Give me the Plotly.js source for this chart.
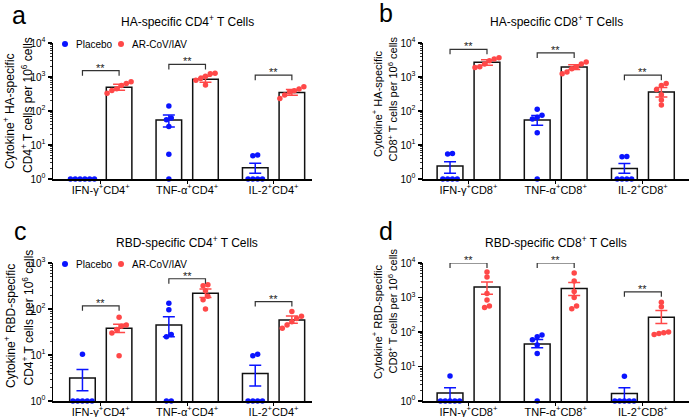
<!DOCTYPE html>
<html><head><meta charset="utf-8">
<script src="https://cdn.plot.ly/plotly-3.0.1.min.js"></script>
<style>html,body{margin:0;padding:0;background:#fff}#chart{width:689px;height:417px}</style>
</head><body><div id="chart"></div>
<script>
// ---------- labels ----------
const groupsCD4 = ['IFN-γ<sup>+</sup>CD4<sup>+</sup>', 'TNF-α<sup>+</sup>CD4<sup>+</sup>', 'IL-2<sup>+</sup>CD4<sup>+</sup>'];
const groupsCD8 = ['IFN-γ<sup>+</sup>CD8<sup>+</sup>', 'TNF-α<sup>+</sup>CD8<sup>+</sup>', 'IL-2<sup>+</sup>CD8<sup>+</sup>'];
const panelTitles = ['HA-specific CD4<sup>+</sup> T Cells', 'HA-specific CD8<sup>+</sup> T Cells',
                     'RBD-specific CD4<sup>+</sup> T Cells', 'RBD-specific CD8<sup>+</sup> T Cells'];
const panelLetters = ['a', 'b', 'c', 'd'];
const yTitleLine1 = ['Cytokine<sup>+</sup> HA-specific', 'Cytokine<sup>+</sup> HA-specific',
                     'Cytokine<sup>+</sup> RBD-specific', 'Cytokine<sup>+</sup> RBD-specific'];
const yTitleLine2 = ['CD4<sup>+</sup> T cells per 10<sup>6</sup> cells', 'CD8<sup>+</sup> T cells per 10<sup>6</sup> cells',
                     'CD4<sup>+</sup> T cells per 10<sup>6</sup> cells', 'CD8<sup>+</sup> T cells per 10<sup>6</sup> cells'];
const seriesNames = ['Placebo', 'AR-CoV/IAV'];
const sigLabel = '**';
const yTickVals4 = [1, 10, 100, 1000, 10000];
const yTickText4 = ['10<sup>0</sup>', '10<sup>1</sup>', '10<sup>2</sup>', '10<sup>3</sup>', '10<sup>4</sup>'];
const yTickVals3 = [1, 10, 100, 1000];
const yTickText3 = ['10<sup>0</sup>', '10<sup>1</sup>', '10<sup>2</sup>', '10<sup>3</sup>'];

// ---------- panel a: HA-specific CD4+ ----------
const aPlaceboPoints = [[1, 1, 1, 1, 1, 1], [140, 62, 55, 35, 5.3, 1], [5.1, 4.8, 1, 1, 1, 1]];
const aVaccinePoints = [[720, 640, 560, 450, 400, 330], [1290, 1250, 1050, 900, 800, 580], [520, 440, 395, 360, 295, 235]];
const aPlaceboMean = [1, 54, 2.15];
const aPlaceboHi = [null, 76, 2.9];
const aPlaceboLo = [null, 34, 1.47];
const aVaccineMean = [497, 855, 350];
const aVaccineHi = [612, 1050, 430];
const aVaccineLo = [408, 700, 290];
const aBracket = [1535, 2350, 1130];

// ---------- panel b: HA-specific CD8+ ----------
const bPlaceboPoints = [[5.6, 5.4, 1, 1, 1, 1], [113, 75, 65, 58, 23, 1], [4.6, 4.5, 1, 1, 1, 1]];
const bVaccinePoints = [[3700, 3400, 3000, 2400, 2000, 1900], [2760, 2400, 2000, 1750, 1400, 1250], [640, 560, 430, 300, 210, 150]];
const bPlaceboMean = [2.4, 54, 2.05];
const bPlaceboHi = [3.2, 74, 2.88];
const bPlaceboLo = [1.47, 38, 1.47];
const bVaccineMean = [2700, 1975, 364];
const bVaccineHi = [3240, 2310, 490];
const bVaccineLo = [2210, 1650, 260];
const bBracket = [6500, 5100, 1130];

// ---------- panel c: RBD-specific CD4+ ----------
const cPlaceboPoints = [[10.4, 1, 1, 1, 1, 1], [134, 96, 28, 25, 1, 1], [10.4, 9.6, 1, 1, 1, 1]];
const cVaccinePoints = [[66, 45, 42, 36, 30, 9.6], [336, 320, 250, 190, 158, 100], [88, 70, 62, 53, 45, 38]];
const cPlaceboMean = [3.18, 45, 3.96];
const cPlaceboHi = [4.84, 68, 6.0];
const cPlaceboLo = [1.68, 25, 2.13];
const cVaccineMean = [38, 221, 58];
const cVaccineHi = [46.5, 271, 70.8];
const cVaccineLo = [31, 178, 49];
const cBracket = [117, 455, 145];

// ---------- panel d: RBD-specific CD8+ ----------
const dPlaceboPoints = [[5.3, 1, 1, 1, 1, 1], [82, 73, 60, 42, 24, 1], [5.2, 1, 1, 1, 1, 1]];
const dVaccinePoints = [[5500, 3900, 1300, 850, 570, 510], [5100, 3000, 1500, 1000, 570, 470], [730, 540, 100, 95, 90, 85]];
const dPlaceboMean = [1.71, 45, 1.64];
const dPlaceboHi = [2.44, 61, 2.44];
const dPlaceboLo = [1.0, 35, 1.0];
const dVaccineMean = [2000, 1830, 267];
const dVaccineHi = [2800, 2700, 420];
const dVaccineLo = [1240, 1150, 175];
const dBracket = [10000, 10000, 1460];

// ---------- styling ----------
const F = 'Liberation Sans, Arial, sans-serif';
const BLUE = '#0a14ff';
const RED = '#ff4848';
const W = 689, H = 417;
const barOffset = 0.212, barWidth = 0.296;

const panels = [
  {sfx: '', labels: groupsCD4, pP: aPlaceboPoints, vP: aVaccinePoints, pM: aPlaceboMean, pH: aPlaceboHi, pL: aPlaceboLo,
   vM: aVaccineMean, vH: aVaccineHi, vL: aVaccineLo, br: aBracket, px: [53, 312], py: [43, 179], xr: [-0.553, 2.445],
   ymax: 4, tv: yTickVals4, tt: yTickText4, legend: true, letter: [10, 23], title: [187, 21],
   yt1: [9, 111, 12], yt2: [27, 105, 12]},
  {sfx: '2', labels: groupsCD8, pP: bPlaceboPoints, vP: bVaccinePoints, pM: bPlaceboMean, pH: bPlaceboHi, pL: bPlaceboLo,
   vM: bVaccineMean, vH: bVaccineHi, vL: bVaccineLo, br: bBracket, px: [423, 689], py: [43, 179], xr: [-0.522, 2.529],
   ymax: 4, tv: yTickVals4, tt: yTickText4, legend: false, letter: [377, 21], title: [556, 21],
   yt1: [377, 104, 11], yt2: [392.5, 99, 11]},
  {sfx: '3', labels: groupsCD4, pP: cPlaceboPoints, vP: cVaccinePoints, pM: cPlaceboMean, pH: cPlaceboHi, pL: cPlaceboLo,
   vM: cVaccineMean, vH: cVaccineHi, vL: cVaccineLo, br: cBracket, px: [53, 312], py: [263, 401], xr: [-0.553, 2.445],
   ymax: 3, tv: yTickVals3, tt: yTickText3, legend: true, letter: [12, 239], title: [187, 242],
   yt1: [10, 326, 12], yt2: [27.5, 318, 12]},
  {sfx: '4', labels: groupsCD8, pP: dPlaceboPoints, vP: dVaccinePoints, pM: dPlaceboMean, pH: dPlaceboHi, pL: dPlaceboLo,
   vM: dVaccineMean, vH: dVaccineHi, vL: dVaccineLo, br: dBracket, px: [423, 689], py: [263, 401], xr: [-0.522, 2.529],
   ymax: 4, tv: yTickVals4, tt: yTickText4, legend: false, letter: [377, 239], title: [556, 242],
   yt1: [377, 322, 11], yt2: [392.5, 311, 11]}
];

function swarm(vals, ppd, ppu) {
  const stepPx = 4.8, thr = 4.5;
  const idx = vals.map((v, i) => i).sort((i, j) => vals[i] - vals[j]);
  const clusters = []; let cur = [];
  idx.forEach(i => {
    if (cur.length && (Math.log10(vals[i]) - Math.log10(vals[cur[cur.length - 1]])) * ppd > thr) { clusters.push(cur); cur = []; }
    cur.push(i);
  });
  if (cur.length) clusters.push(cur);
  const off = new Array(vals.length).fill(0);
  clusters.forEach(c => c.forEach((i, k) => { off[i] = (k - (c.length - 1) / 2) * stepPx / ppu; }));
  return off;
}

const traces = [];
const layout = {
  width: W, height: H, margin: {l: 0, r: 0, t: 0, b: 0}, paper_bgcolor: '#fff', plot_bgcolor: '#fff',
  showlegend: false, barmode: 'overlay', font: {family: F, color: '#000'},
  annotations: [], shapes: []
};
const px2x = v => v / W, px2y = v => 1 - v / H;

panels.forEach((p, pi) => {
  const xa = 'x' + p.sfx, ya = 'y' + p.sfx;
  const ppd = (p.py[1] - p.py[0]) / p.ymax;
  const ppu = (p.px[1] - p.px[0]) / (p.xr[1] - p.xr[0]);
  const g = [0, 1, 2];
  const xP = g.map(i => i - barOffset), xV = g.map(i => i + barOffset);

  // bars
  [[xP, p.pM], [xV, p.vM]].forEach(([xs, ys]) => {
    traces.push({type: 'bar', x: xs, y: ys, width: barWidth, xaxis: xa, yaxis: ya,
      marker: {color: '#fff', line: {color: '#111', width: 1.5}}, hoverinfo: 'skip'});
  });
  // points
  [[xP, p.pP, BLUE], [xV, p.vP, RED]].forEach(([xs, pts, col]) => {
    const X = [], Y = [];
    pts.forEach((arr, gi) => {
      const off = swarm(arr, ppd, ppu);
      arr.forEach((v, k) => { X.push(xs[gi] + off[k]); Y.push(v); });
    });
    traces.push({type: 'scatter', mode: 'markers', x: X, y: Y, xaxis: xa, yaxis: ya, cliponaxis: false,
      marker: {color: col, size: 5.5, line: {width: 0}}, hoverinfo: 'skip'});
  });
  // error bars (mean ± SEM)
  [[xP, p.pM, p.pH, p.pL, BLUE], [xV, p.vM, p.vH, p.vL, RED]].forEach(([xs, m, hi, lo, col]) => {
    const X = [], Y = [], up = [], dn = [];
    m.forEach((v, i) => { if (hi[i] !== null) { X.push(xs[i]); Y.push(v); up.push(hi[i] - v); dn.push(v - lo[i]); } });
    traces.push({type: 'scatter', mode: 'markers', x: X, y: Y, xaxis: xa, yaxis: ya, cliponaxis: false,
      marker: {size: 1, color: 'rgba(0,0,0,0)'},
      error_y: {type: 'data', symmetric: false, array: up, arrayminus: dn, color: col, thickness: 1.5, width: 6},
      hoverinfo: 'skip'});
  });
  // significance brackets
  const drop = Math.pow(10, 5 / ppd);
  const BX = [], BY = [];
  p.br.forEach((b, i) => {
    BX.push(xP[i], xP[i], xV[i], xV[i], null);
    BY.push(b / drop, b, b, b / drop, null);
    layout.annotations.push({xref: xa, yref: ya, x: i, y: Math.min(Math.log10(b), p.ymax - 1e-6), yshift: 3,
      xanchor: 'center', yanchor: 'middle', text: sigLabel, showarrow: false, font: {family: F, size: 11, color: '#222'}});
  });
  traces.push({type: 'scatter', mode: 'lines', x: BX, y: BY, xaxis: xa, yaxis: ya, cliponaxis: false,
    line: {color: '#333', width: 1.2}, hoverinfo: 'skip'});

  // axes
  layout['xaxis' + p.sfx] = {
    domain: [px2x(p.px[0]), px2x(p.px[1])], range: p.xr, anchor: ya, tickmode: 'array', tickvals: g, ticktext: p.labels,
    ticks: 'outside', ticklen: 3, tickwidth: 1.2, tickcolor: '#000', showline: true, linecolor: '#000', linewidth: 1.5,
    showgrid: false, zeroline: false, tickfont: {family: F, size: 11, color: '#000'}, fixedrange: true,
    ticklabelstandoff: -3
  };
  layout['yaxis' + p.sfx] = {
    domain: [px2y(p.py[1]), px2y(p.py[0])], type: 'log', range: [0, p.ymax], anchor: xa, tickmode: 'array',
    tickvals: p.tv, ticktext: p.tt, ticks: 'outside', ticklen: 4, tickwidth: 1.2, tickcolor: '#000',
    showline: true, linecolor: '#000', linewidth: 1.5, showgrid: false, zeroline: false,
    tickfont: {family: F, size: 10, color: '#000'}, fixedrange: true,
    minor: {ticks: 'outside', ticklen: 2, tickwidth: 0.8, tickcolor: '#000', dtick: 'D1', showgrid: false}
  };

  // texts
  layout.annotations.push({xref: 'paper', yref: 'paper', x: px2x(p.letter[0]), y: px2y(p.letter[1] + 8), xanchor: 'left', yanchor: 'bottom',
    text: panelLetters[pi], showarrow: false, font: {family: F, size: 25, color: '#000'}});
  layout.annotations.push({xref: 'paper', yref: 'paper', x: px2x(p.title[0]), y: px2y(p.title[1]), xanchor: 'center', yanchor: 'middle',
    text: panelTitles[pi], showarrow: false, font: {family: F, size: 12, color: '#000'}});
  layout.annotations.push({xref: 'paper', yref: 'paper', x: px2x(p.yt1[0]), y: px2y(p.yt1[1]), xanchor: 'center', yanchor: 'middle',
    textangle: -90, text: yTitleLine1[pi], showarrow: false, font: {family: F, size: p.yt1[2], color: '#000'}});
  layout.annotations.push({xref: 'paper', yref: 'paper', x: px2x(p.yt2[0]), y: px2y(p.yt2[1]), xanchor: 'center', yanchor: 'middle',
    textangle: -90, text: yTitleLine2[pi], showarrow: false, font: {family: F, size: p.yt2[2], color: '#000'}});

  if (p.legend) {
    const ly = p.py[0] + 1;
    [[65, 74, BLUE, seriesNames[0]], [121, 130, RED, seriesNames[1]]].forEach(([dx, tx, col, name]) => {
      layout.shapes.push({type: 'circle', xref: 'paper', yref: 'paper', xsizemode: 'pixel', ysizemode: 'pixel',
        xanchor: px2x(dx), yanchor: px2y(ly), x0: -3, x1: 3, y0: -3, y1: 3, fillcolor: col, line: {width: 0}});
      layout.annotations.push({xref: 'paper', yref: 'paper', x: px2x(tx), y: px2y(ly), xanchor: 'left', yanchor: 'middle',
        text: name, showarrow: false, font: {family: F, size: 10, color: '#000'}});
    });
  }
});

Plotly.newPlot('chart', traces, layout, {displayModeBar: false, staticPlot: true});
</script>
</body></html>
